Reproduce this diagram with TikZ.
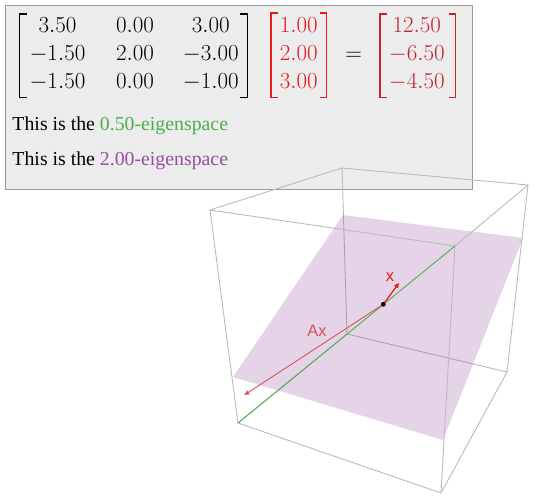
\RequirePackage{fix-cm}
\documentclass[tikz,border=0pt]{standalone}
\usepackage{amsmath}
\usepackage{fontspec}
\newfontfamily\serifT{Liberation Serif}
\newfontfamily\sansA{Liberation Sans}
\usetikzlibrary{arrows.meta}
\definecolor{bred}{HTML}{E41A1C}
\definecolor{dred}{HTML}{C0262C}
\definecolor{lred}{HTML}{D6525A}
\definecolor{bgreen}{HTML}{4DAF4A}
\definecolor{bpurple}{HTML}{984EA3}
\definecolor{edgegray}{HTML}{BABABA}
\definecolor{panelfill}{HTML}{ECECEC}
\definecolor{panelline}{HTML}{999999}
\tikzset{
  cubeedge/.style={draw=edgegray, line width=0.9pt},
  ent/.style={inner sep=0pt, anchor=base, font=\fontsize{23}{28}\selectfont},
  bodytxt/.style={inner sep=0pt, anchor=base west, font=\serifT\fontsize{19.8}{24}\selectfont},
  vlabel/.style={inner sep=0pt, font=\sansA\fontsize{16.5}{20}\selectfont},
  vecarrow/.style={-{Triangle[length=5pt,width=4.5pt]}},
  brk/.style={line width=1.5pt, line cap=butt, line join=miter},
}
\begin{document}
\begin{tikzpicture}[x=1pt,y=-1pt]
\useasboundingbox (0,0) rectangle (537,498);
% panel
\draw[fill=panelfill, draw=panelline, line width=0.9pt] (5,5) rectangle (472,189);
% matrix A
\node[ent] (a11) at (57.5,32.3) {$3.50$};
\node[ent] (a12) at (135,32.3) {$0.00$};
\node[ent] (a13) at (210.8,32.3) {$3.00$};
\node[ent] (a21) at (57.5,60.2) {$-1.50$};
\node[ent] (a22) at (135,60.2) {$2.00$};
\node[ent] (a23) at (210.8,60.2) {$-3.00$};
\node[ent] (a31) at (57.5,88.3) {$-1.50$};
\node[ent] (a32) at (135,88.3) {$0.00$};
\node[ent] (a33) at (210.8,88.3) {$-1.00$};
\draw[brk] (26.5,14) -- (19.3,14) -- (19.3,97.5) -- (26.5,97.5);
\draw[brk] (240,14) -- (247.3,14) -- (247.3,97.5) -- (240,97.5);
% vector x
\begin{scope}[text=bred, draw=bred]
\node[ent] (v1) at (298.7,32.3) {$1.00$};
\node[ent] (v2) at (298.7,60.2) {$2.00$};
\node[ent] (v3) at (298.7,88.3) {$3.00$};
\draw[brk] (278.2,13) -- (271,13) -- (271,97.5) -- (278.2,97.5);
\draw[brk] (319.5,13) -- (326.7,13) -- (326.7,97.5) -- (319.5,97.5);
\end{scope}
% equals
\node[ent] (eq) at (353.7,60.2) {$=$};
% result
\begin{scope}[text=dred, draw=dred]
\node[ent] (r1) at (416.8,32.3) {$12.50$};
\node[ent] (r2) at (416.8,60.2) {$-6.50$};
\node[ent] (r3) at (416.8,88.3) {$-4.50$};
\draw[brk] (387.2,14) -- (380,14) -- (380,97.5) -- (387.2,97.5);
\draw[brk] (448.5,14) -- (455.7,14) -- (455.7,97.5) -- (448.5,97.5);
\end{scope}
\node[bodytxt] (l1) at (12.3,130) {This is the \textcolor{bgreen}{0.50-eigenspace}};
\node[bodytxt] (l2) at (12.3,165) {This is the \textcolor{bpurple}{2.00-eigenspace}};
% cube
\coordinate (t1) at (342,168);
\coordinate (t2) at (210,210);
\coordinate (t3) at (455,246);
\coordinate (t4) at (528,185);
\coordinate (b1) at (347,334);
\coordinate (b2) at (238,423);
\coordinate (b3) at (441,493);
\coordinate (b4) at (507,372);
\draw[cubeedge] (b1) -- (b2) (b1) -- (b4) (t1) -- (b1);
% plane
\fill[bpurple, opacity=0.25] (343,215) -- (523,238) -- (443,440) -- (233,377) -- cycle;
\draw[cubeedge] (t1) -- (t2) -- (t3) -- (t4) -- cycle;
\draw[cubeedge] (b2) -- (b3) -- (b4);
\draw[cubeedge] (t2) -- (b2) (t3) -- (b3) (t4) -- (b4);
% eigenline
\draw[bgreen, line width=0.9pt] (b2) -- (t3);
% vectors
\coordinate (O) at (383.3,304.3);
\coordinate (X) at (399,283);
\coordinate (AX) at (244.3,395);
\draw[lred, line width=0.9pt, vecarrow] (O) -- (AX);
\draw[bred, line width=1.2pt, vecarrow] (O) -- (X);
\fill[black] (O) circle (2.4pt);
\node[vlabel, text=bred] (xl) at (390,277.5) {x};
\node[vlabel, text=lred] (axl) at (317,331) {Ax};
\end{tikzpicture}
\end{document}
